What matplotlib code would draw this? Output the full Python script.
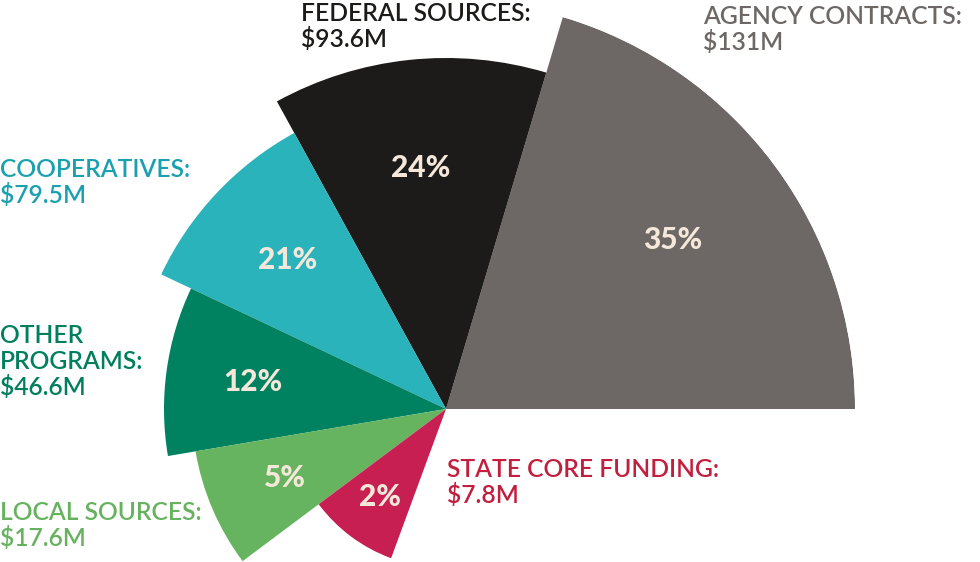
import numpy as np
import matplotlib
matplotlib.use("Agg")
import matplotlib.pyplot as plt

# ---- data ----
categories = ["AGENCY CONTRACTS:", "FEDERAL SOURCES:", "COOPERATIVES:",
              "OTHER\nPROGRAMS:", "LOCAL SOURCES:", "STATE CORE FUNDING:"]
amounts = ["$131M", "$93.6M", "$79.5M", "$46.6M", "$17.6M", "$7.8M"]
percents = [35, 24, 21, 12, 5, 2]
# designer geometry of each wedge (angular span in degrees, radius in px units)
span_deg = [73.4, 45.4, 35.9, 34.9, 27.2, 33.0]
radius = [409, 351, 315, 282, 254, 159]

wedge_colors = ["#6d6865", "#1c1b19", "#2bb3bb", "#008261", "#67b460", "#c71f52"]
text_colors = ["#6d6865", "#1c1b19", "#1aa0af", "#007f5f", "#66b25f", "#c21f3e"]
pct_color = "#f5e8da"

W, H = 980, 562
fig = plt.figure(figsize=(W / 100, H / 100), dpi=100)

cx, cy = 446, 409   # pixel centre (from top-left)
R = max(radius)
ax = fig.add_axes([(cx - R) / W, (H - cy - R) / H, 2 * R / W, 2 * R / H],
                  projection="polar")
ax.set_ylim(0, R)
ax.set_axis_off()

spans = np.deg2rad(span_deg)
starts = np.concatenate([[0], np.cumsum(spans)[:-1]])
ax.bar(starts, radius, width=spans, align="edge", color=wedge_colors,
       linewidth=0, antialiased=True)

font = "Lato"
for s, w, r, p in zip(starts, spans, radius, percents):
    ax.text(s + w / 2, 0.69 * r, f"{p}%", ha="center", va="center",
            color=pct_color, fontsize=21.5, fontweight=900, family=font)

# category labels, placed by pixel baseline of first line
label_pos = [(703, 24), (301, 21), (0, 177), (0, 343), (0, 520), (447, 477)]
line_gap = 26
for cat, amt, col, (lx, ly) in zip(categories, amounts, text_colors, label_pos):
    lines = cat.split("\n") + [amt]
    for i, line in enumerate(lines):
        fig.text(lx / W, 1 - (ly + i * line_gap) / H, line, ha="left",
                 va="baseline", color=col, fontsize=17.7, family=font,
                 fontweight=600)

fig.savefig("out.png", dpi=100)
